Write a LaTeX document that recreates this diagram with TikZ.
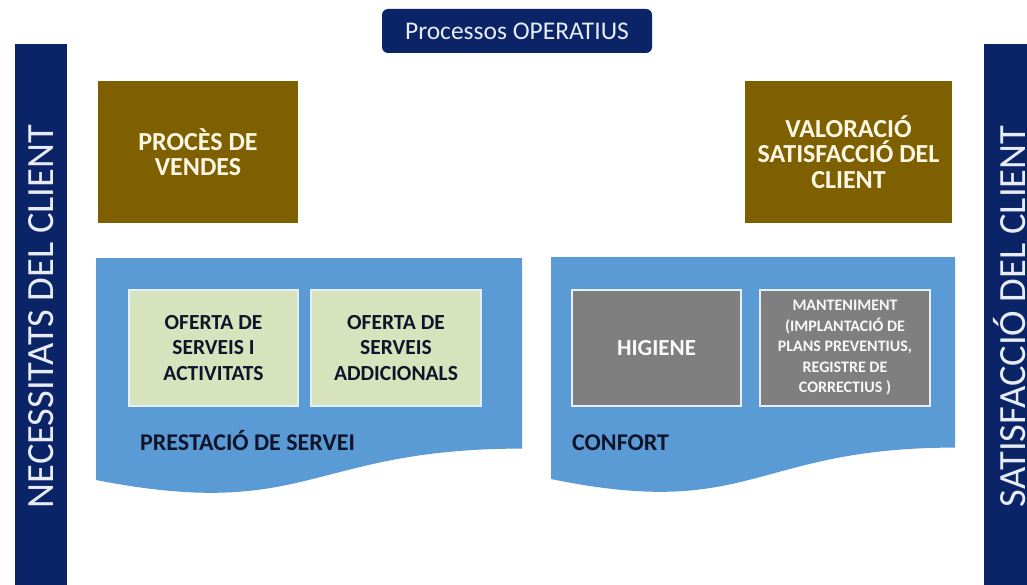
\documentclass[tikz,border=0pt]{standalone}
\usepackage{fontspec}
\setmainfont{Carlito}
\definecolor{navy}{HTML}{0B2468}
\definecolor{brownbox}{HTML}{7F6000}
\definecolor{bluebox}{HTML}{5B9BD5}
\definecolor{greenbox}{HTML}{D6E3BC}
\definecolor{graybox}{HTML}{7F7F7F}
\definecolor{darktext}{HTML}{10142A}
\definecolor{creamtext}{HTML}{FFF7E6}
\definecolor{paletext}{HTML}{E8ECF4}
\begin{document}
\begin{tikzpicture}[x=1pt,y=-1pt,
  sidebar/.style={fill=navy, draw=none, inner sep=0pt, rotate=90, text=paletext,
    font=\fontsize{38.5}{42}\selectfont, minimum width=545pt, minimum height=52pt},
  titlebox/.style={fill=navy, rounded corners=6pt, inner sep=0pt, text=paletext,
    font=\fontsize{25.5}{28}\selectfont, minimum width=270pt, minimum height=44pt},
  brownnode/.style={fill=brownbox, inner sep=0pt, text=creamtext, align=center,
    font=\fontsize{26}{25.5}\selectfont\bfseries, minimum height=142pt},
  greennode/.style={fill=greenbox, draw=white!85!bluebox, line width=1.2pt, inner sep=0pt,
    text=darktext, align=center, font=\fontsize{21.5}{25.5}\selectfont\bfseries,
    minimum height=116pt},
  graynode/.style={fill=graybox, draw=white!85!bluebox, line width=1.2pt, inner sep=0pt,
    text=white!95!graybox, align=center, minimum height=116pt},
  grouplabel/.style={anchor=base west, inner sep=0pt, text=darktext,
    font=\fontsize{24}{26}\selectfont\bfseries},
  wave/.style={fill=bluebox, draw=none}
]
\useasboundingbox (0,0) rectangle (1027,585);
\fill[white] (0,0) rectangle (1027,585);

% side bars
\node[sidebar] (lbar) at (41,316.5) {NECESSITATS DEL CLIENT};
\node[sidebar] (rbar) at (1010,316.5) {SATISFACCIÓ DEL CLIENT};

% title
\node[titlebox] (title) at (517,31) {Processos OPERATIUS};

% brown boxes
\node[brownnode, minimum width=200pt] (vendes) at (198,152) {PROCÈS DE\\VENDES};
\node[brownnode, minimum width=207pt] (valor) at (848.5,152) {VALORACIÓ\\SATISFACCIÓ DEL\\CLIENT};

% blue document shapes
\fill[wave] (96,258) coordinate (lwtop) -- (522,258) -- (522,448.6)
  .. controls (309,448.6) and (309,521.6) .. (96,480) -- cycle;
\fill[wave] (551,257) coordinate (rwtop) -- (955,257) -- (955,447.6)
  .. controls (753,447.6) and (753,520.6) .. (551,479) -- cycle;

% green boxes
\node[greennode, minimum width=169pt] (oferta1) at (213.5,348) {OFERTA DE\\SERVEIS I\\ACTIVITATS};
\node[greennode, minimum width=170pt] (oferta2) at (396,348) {OFERTA DE\\SERVEIS\\ADDICIONALS};

% gray boxes
\node[graynode, minimum width=169pt, font=\fontsize{23}{25}\selectfont\bfseries] (higiene) at (656.5,348) {HIGIENE};
\node[graynode, minimum width=170pt, font=\fontsize{16}{20.5}\selectfont\bfseries] (mant) at (845,348)
  {MANTENIMENT\\(IMPLANTACIÓ DE\\PLANS PREVENTIUS,\\REGISTRE DE\\CORRECTIUS )};

% group labels
\node[grouplabel] (prest) at (140,450) {PRESTACIÓ DE SERVEI};
\node[grouplabel] (confort) at (572,450) {CONFORT};
\end{tikzpicture}
\end{document}
